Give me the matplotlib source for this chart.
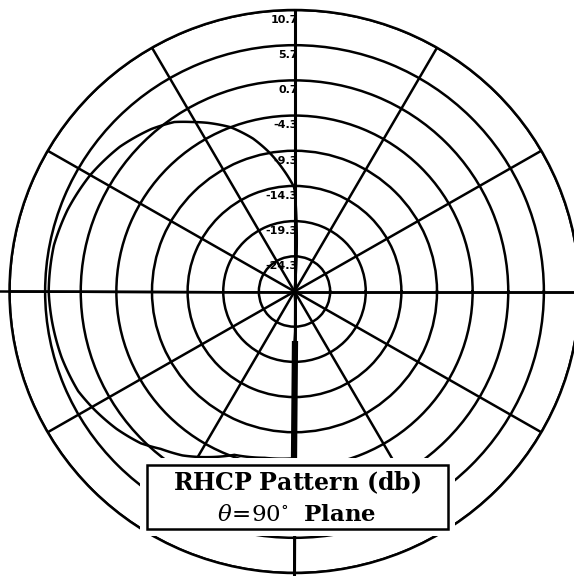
import numpy as np
import matplotlib.pyplot as plt
from matplotlib.patches import Rectangle

plt.rcParams['mathtext.fontset'] = 'dejavuserif'

# radial scale in dB, one ring every 5 dB
r_min, r_max = -29.3, 10.7
ring_db = [-24.3, -19.3, -14.3, -9.3, -4.3, 0.7, 5.7, 10.7]
ring_labels = ['-24.3', '-19.3', '-14.3', '-9.3', '-4.3', '0.7', '5.7', '10.7']
spoke_deg = list(range(0, 360, 30))

# RHCP gain (dB) against phi (deg) in the theta = 90 deg plane
phi_deg = [90, 95, 100, 105, 111, 117, 121, 125, 131, 140, 150, 160, 169, 180, 187, 196, 205, 211,
           218, 225, 230, 236, 241, 250, 260, 270, 270, 275, 445, 450]
gain_db = [-14.6, -12.0, -9.3, -6.8, -4.3, -2.4, -1.2, 0.1, 1.3, 2.7, 3.8, 4.6, 5.1, 5.2, 5.0, 4.7,
           4.2, 3.4, 2.4, 1.2, -0.1, -1.2, -2.4, -4.6, -5.3, -5.6, -22.1, -40.0, -40.0, -14.6]

# deep notch near phi = 270 deg
notch_phi = [270, 270]
notch_db = [-22.3, -5.6]

W, H = 574, 576
fig = plt.figure(figsize=(W / 100, H / 100), dpi=100)

# centre (294.5, 291.5) px, radii 285 x 281.5 px
ax = fig.add_axes([(294.5 - 285) / W, 1 - (291.5 + 281.5) / H, 570 / W, 563 / H],
                  projection='polar')
ax.set_aspect('auto')
ax.set_ylim(r_min, r_max)
ax.set_rgrids(ring_db, labels=[])
ax.set_thetagrids(spoke_deg, labels=[])
ax.tick_params(length=0)
ax.grid(True, color='black', lw=1.8)
ax.spines['polar'].set_color('black')
ax.spines['polar'].set_linewidth(1.8)

# main axes run a little past the outer ring
ax.plot(np.deg2rad([0, 0]), [r_min, 12.2], color='black', lw=1.8, clip_on=False)
ax.plot(np.deg2rad([180, 180]), [r_min, 12.2], color='black', lw=1.8, clip_on=False)
ax.plot(np.deg2rad([90, 90]), [r_min, r_max], color='black', lw=2.2)
ax.plot(np.deg2rad([270, 270]), [r_min, 11.5], color='black', lw=2.2, clip_on=False)

# ring values along the 90 deg spoke
for val, lbl in zip(ring_db, ring_labels):
    ax.annotate(lbl, xy=(np.pi / 2, val - 1.4), xytext=(2.5, 0), textcoords='offset points',
                ha='right', va='center', fontsize=8, fontweight='bold', zorder=1)

# pattern, values under the floor sit at the centre
theta = np.deg2rad(phi_deg)
r = np.maximum(np.array(gain_db), r_min)
pat, = ax.plot(theta, r, color='black', lw=1.8, zorder=4)
pat.get_path()._interpolation_steps = 30   # draw segments as polar arcs
ax.plot(np.deg2rad(notch_phi), notch_db, color='black', lw=4.5, solid_capstyle='butt', zorder=4)

# caption box with a white margin that hides the grid behind it
def px_rect(x0, y0, x1, y1, **kw):
    return Rectangle((x0 / W, 1 - y1 / H), (x1 - x0) / W, (y1 - y0) / H,
                     transform=fig.transFigure, **kw)

fig.add_artist(px_rect(139.5, 457.5, 455.5, 535.5, facecolor='white', edgecolor='none', zorder=5))
fig.add_artist(px_rect(146.5, 464.5, 448.5, 529, facecolor='white', edgecolor='black', lw=1.8, zorder=6))
fig.text(297.5 / W, 1 - 490 / H, r'$\mathbf{RHCP\ Pattern\ (db)}$', ha='center', va='baseline',
         fontsize=17, zorder=7)
fig.text(296.5 / W, 1 - 521 / H, r'$\theta\!=\!90^{\circ}\ \ \mathbf{Plane}$', ha='center',
         va='baseline', fontsize=16.5, zorder=7)

fig.savefig('out.png', dpi=100, facecolor='white')
